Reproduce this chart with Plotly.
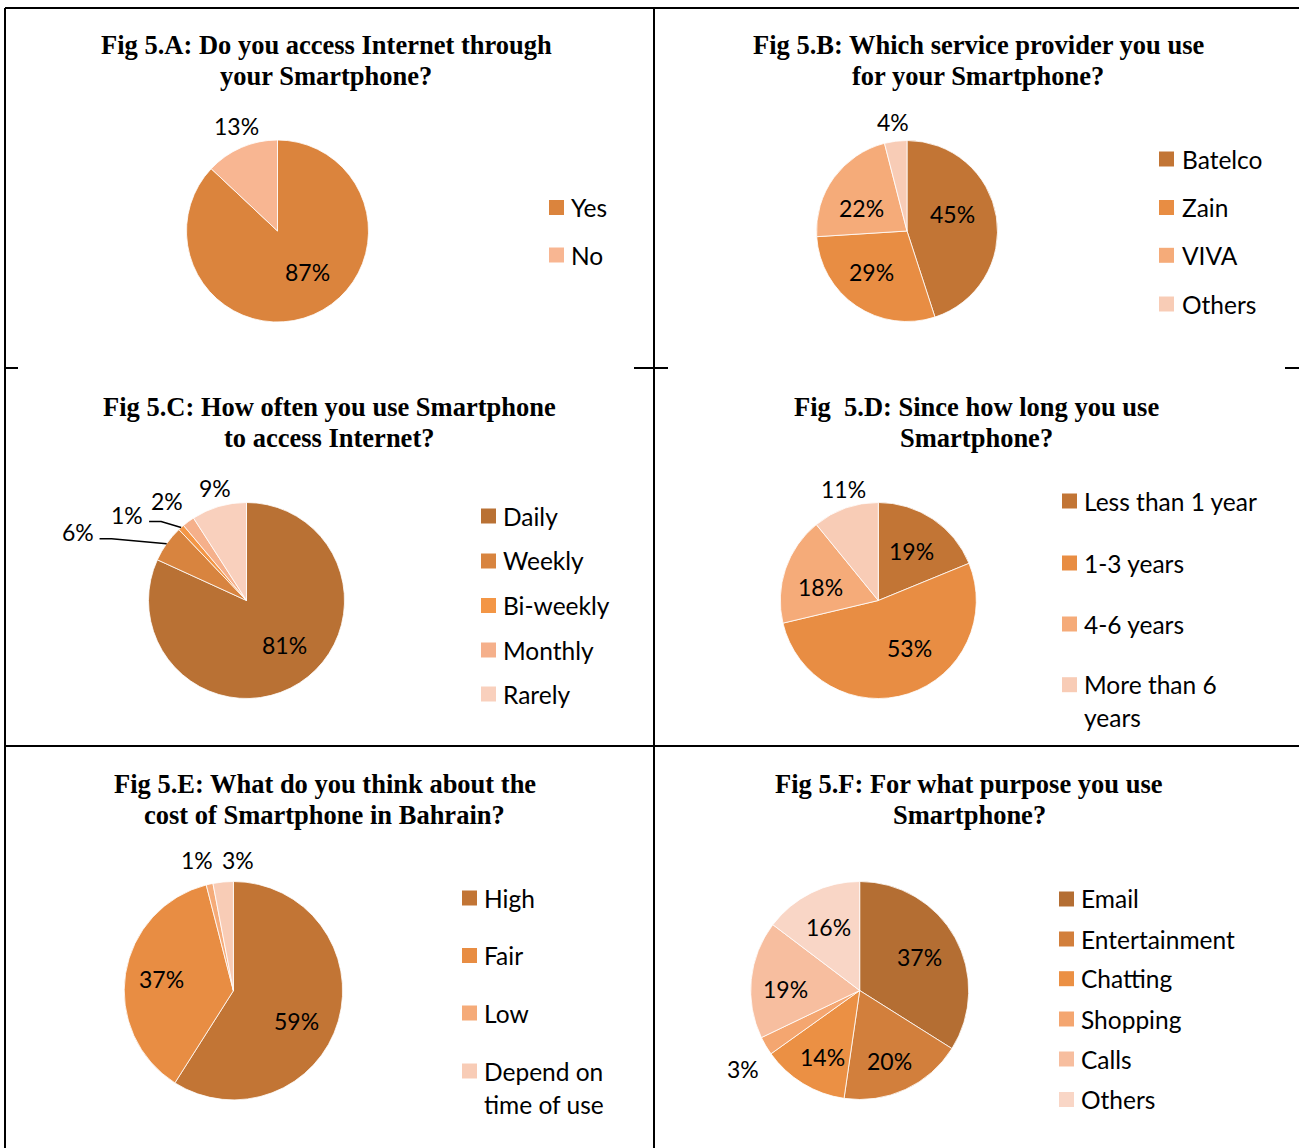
import math
import plotly.graph_objects as go

W, H = 1299, 1148

# ---------------- data ----------------
a_labels = ["Yes", "No"]
a_values = [87, 13]
b_labels = ["Batelco", "Zain", "VIVA", "Others"]
b_values = [45, 29, 22, 4]
c_labels = ["Daily", "Weekly", "Bi-weekly", "Monthly", "Rarely"]
c_values = [81, 6, 1, 2, 9]
d_labels = ["Less than 1 year", "1-3 years", "4-6 years", "More than 6<br>years"]
d_values = [19, 53, 18, 11]
e_labels = ["High", "Fair", "Low", "Depend on<br>time of use"]
e_values = [59, 37, 1, 3]
f_labels = ["Email", "Entertainment", "Chatting", "Shopping", "Calls", "Others"]
f_values = [37, 20, 14, 3, 19, 16]

a_title = ["Fig 5.A: Do you access Internet through", "your Smartphone?"]
b_title = ["Fig 5.B: Which service provider you use", "for your Smartphone?"]
c_title = ["Fig 5.C: How often you use Smartphone", "to access Internet?"]
d_title = ["Fig \u00a05.D: Since how long you use", "Smartphone?"]
e_title = ["Fig 5.E: What do you think about the", "cost of Smartphone in Bahrain?"]
f_title = ["Fig 5.F: For what purpose you use", "Smartphone?"]

# ---------------- styles ----------------
four = ["#C27535", "#E88D43", "#F5AB79", "#F8CCB6"]
panels = [
    dict(labels=a_labels, values=a_values, title=a_title,
         colors=["#DB843D", "#F8B692"],
         cx=277.5, cy=231, r=91, tcx=326, ty=[45, 76],
         sw_x=549, tx=569, ly=[207.5, 255],
         rf=[0.56, 1.24], dth=[-12.8, 2], lead=[False, False]),
    dict(labels=b_labels, values=b_values, title=b_title, colors=four,
         cx=907, cy=231, r=90.5, tcx=978, ty=[45, 76],
         sw_x=1159, tx=1179.5, ly=[159, 207.5, 255.3, 304],
         rf=[0.54, 0.6, 0.57, 1.21], dth=[-11, 7, -9, 0], lead=[False] * 4),
    dict(labels=c_labels, values=c_values, title=c_title,
         colors=["#B97134", "#D8843F", "#F39646", "#F5B08B", "#F9D0BD"],
         cx=246.5, cy=600.5, r=98, tcx=329, ty=[407, 438],
         sw_x=481, tx=501, ly=[516, 561, 605.5, 650, 694],
         rf=[0.6, 1.86, 1.5, 1.3, 1.19], dth=[-8, -13.4, -12.5, -2, 0.7],
         lead=[False, True, True, False, False]),
    dict(labels=d_labels, values=d_values, title=d_title, colors=four,
         cx=878.3, cy=600.5, r=98, tcx=976, ty=[407, 438],
         sw_x=1062, tx=1082, ly=[501, 563, 624, 684.7],
         rf=[0.61, 0.58, 0.61, 1.19], dth=[0, -15.3, -5.4, 2], lead=[False] * 4),
    dict(labels=e_labels, values=e_values, title=e_title, colors=four,
         cx=233.4, cy=990.7, r=109.2, tcx=324.5, ty=[784, 815],
         sw_x=462, tx=481.5, ly=[898, 955.5, 1013, 1071],
         rf=[0.64, 0.67, 1.24, 1.2], dth=[9.4, 0, -3, 7.3], lead=[False] * 4),
    dict(labels=f_labels, values=f_values, title=f_title,
         colors=["#B46E33", "#D27F3C", "#EB9044", "#F4A670", "#F7BE9F", "#F9D6C6"],
         cx=859.7, cy=990.5, r=109, tcx=969, ty=[784, 815],
         sw_x=1059, tx=1079, ly=[899, 939, 978.7, 1019, 1059, 1099.5],
         rf=[0.63, 0.7, 0.7, 1.29, 0.68, 0.65], dth=[0, 2, -2.6, -3.4, -5, 0],
         lead=[False] * 6),
]

SANS = "Lato"
SERIF = "Liberation Serif"
FS_LAB = 23
FS_LEG = 24.5
SW = 15


def px(x):
    return x / W


def py(y):
    return 1 - y / H


fig = go.Figure()
annotations = []
shapes = []

for p in panels:
    cx, cy, r = p["cx"], p["cy"], p["r"]
    fig.add_trace(go.Pie(
        labels=[l.replace("<br>", " ") for l in p["labels"]],
        values=p["values"],
        sort=False, direction="clockwise", rotation=0,
        marker=dict(colors=p["colors"], line=dict(color="white", width=0.8)),
        textinfo="none", hoverinfo="label+value",
        showlegend=False,
        domain=dict(x=[px(cx - r), px(cx + r)], y=[py(cy + r), py(cy - r)]),
    ))
    # title
    for line, ty in zip(p["title"], p["ty"]):
        annotations.append(dict(
            text="<b>%s</b>" % line, x=px(p["tcx"]), y=py(ty), xref="paper", yref="paper",
            xanchor="center", yanchor="middle", showarrow=False,
            font=dict(family=SERIF, size=26.5, color="black")))
    # slice labels
    total = sum(p["values"])
    cum = 0
    for i, v in enumerate(p["values"]):
        mid = (cum + v / 2) / total * 360
        cum += v
        th = math.radians(mid + p["dth"][i])
        lx = cx + p["rf"][i] * r * math.sin(th)
        ly = cy - p["rf"][i] * r * math.cos(th)
        annotations.append(dict(
            text="%d%%" % v, x=px(lx), y=py(ly), xref="paper", yref="paper",
            xanchor="center", yanchor="middle", showarrow=False,
            font=dict(family=SANS, size=FS_LAB, color="black")))
        if p["lead"][i]:
            m = math.radians(mid)
            ex = cx + r * math.sin(m)
            ey = cy - r * math.cos(m)
            sx, sy = lx + 22, ly + 6.7
            path = "M %f,%f L %f,%f L %f,%f" % (px(sx), py(sy), px(sx + 12), py(sy), px(ex), py(ey))
            shapes.append(dict(type="path", path=path, xref="paper", yref="paper",
                               line=dict(color="black", width=1.5)))
    # legend
    for lab, col, y in zip(p["labels"], p["colors"], p["ly"]):
        shapes.append(dict(type="rect", xref="paper", yref="paper",
                           x0=px(p["sw_x"]), x1=px(p["sw_x"] + SW),
                           y0=py(y + SW / 2), y1=py(y - SW / 2),
                           fillcolor=col, line=dict(width=0)))
        for k, part in enumerate(lab.split("<br>")):
            annotations.append(dict(
                text=part, x=px(p["tx"]), y=py(y + k * 33), xref="paper", yref="paper",
                xanchor="left", yanchor="middle", showarrow=False,
                font=dict(family=SANS, size=FS_LEG, color="black")))


# table borders
def hline(x0, x1, y, w=2):
    shapes.append(dict(type="line", xref="paper", yref="paper", x0=px(x0), x1=px(x1),
                       y0=py(y), y1=py(y), line=dict(color="black", width=w)))


def vline(x, y0, y1, w=2):
    shapes.append(dict(type="line", xref="paper", yref="paper", x0=px(x), x1=px(x),
                       y0=py(y0), y1=py(y1), line=dict(color="black", width=w)))


hline(5, 1299, 8)
hline(5, 1299, 746)
hline(5, 18, 368)
hline(634, 668, 368)
hline(1285, 1299, 368)
vline(5, 8, 1148)
vline(654, 8, 1148)

fig.update_layout(
    width=W, height=H, margin=dict(l=0, r=0, t=0, b=0),
    paper_bgcolor="white", plot_bgcolor="white",
    annotations=annotations, shapes=shapes,
)

fig.write_html(
    "out.html",
    config={"displayModeBar": False},
    post_script="document.body.style.margin='0';document.body.style.padding='0';"
                "document.body.style.overflow='hidden';",
)
